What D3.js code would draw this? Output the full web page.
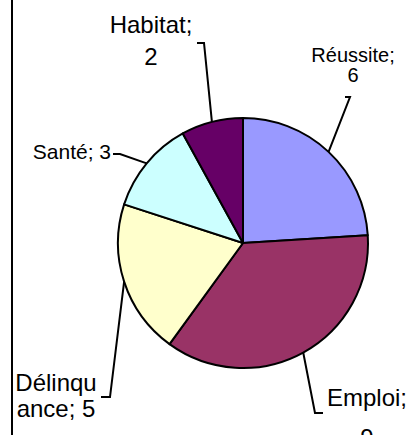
<!DOCTYPE html>
<html>
<head>
<meta charset="utf-8">
<script src="https://cdn.jsdelivr.net/npm/d3@7/dist/d3.min.js"></script>
<style>
html,body{margin:0;padding:0;background:#fff;}
svg{display:block;}
text{font-family:"Liberation Sans",Arial,sans-serif;fill:#000;}
</style>
</head>
<body>
<svg id="chart" width="409" height="435"></svg>
<script>
const categories = ["Réussite", "Emploi", "Délinquance", "Santé", "Habitat"];
const values = [6, 9, 5, 3, 2];
const colors = ["#9999FF", "#993366", "#FFFFCC", "#CCFFFF", "#660066"];

// label layout (positions only)
const labelLayout = [
  {lines:["Réussite;","6"], x:353, ys:[62,82], size:20, anchor:"middle", path:[[350,97],[345,97]]},
  {lines:["Emploi;","9"], x:367, ys:[406,446], size:24, anchor:"middle", path:[[315,413],[323,413]]},
  {lines:["Délinqu","ance; 5"], x:56, ys:[391,417], size:24, anchor:"middle", path:[[110,397],[101,397]]},
  {lines:["Santé; 3"], x:111, ys:[159], size:21, anchor:"end", path:[[120,154],[113,154]]},
  {lines:["Habitat;","2"], x:151, ys:[33,65], size:24, anchor:"middle", path:[[204,43],[197,43]]}
];

const svg = d3.select("#chart");
const cx = 243, cy = 243, R = 125;

// left frame line
svg.append("line").attr("x1",12).attr("x2",12).attr("y1",0).attr("y2",435)
  .attr("stroke","#000").attr("stroke-width",2);

const data = categories.map((c,i)=>({name:c, value:values[i], color:colors[i], layout:labelLayout[i]}));
const pie = d3.pie().sort(null).value(d=>d.value).startAngle(0).endAngle(2*Math.PI);
const arcs = pie(data);
const arc = d3.arc().innerRadius(0).outerRadius(R);
const edgeArc = d3.arc().innerRadius(R).outerRadius(R);

const g = svg.append("g").attr("transform",`translate(${cx},${cy})`);
g.selectAll("path.slice").data(arcs).enter().append("path")
  .attr("class","slice")
  .attr("d",arc)
  .attr("fill",d=>d.data.color)
  .attr("stroke","#000").attr("stroke-width",2).attr("stroke-linejoin","round");

// leader lines and labels
arcs.forEach(a=>{
  const c = edgeArc.centroid(a);
  const pts = [[cx+c[0], cy+c[1]]].concat(a.data.layout.path);
  svg.append("path").attr("d", d3.line()(pts))
    .attr("fill","none").attr("stroke","#000").attr("stroke-width",2);
  const L = a.data.layout;
  const t = svg.append("text").attr("text-anchor",L.anchor).style("font-size",L.size+"px");
  L.lines.forEach((ln,i)=>{
    t.append("tspan").attr("x",L.x).attr("y",L.ys[i]).text(ln);
  });
});
</script>
</body>
</html>
